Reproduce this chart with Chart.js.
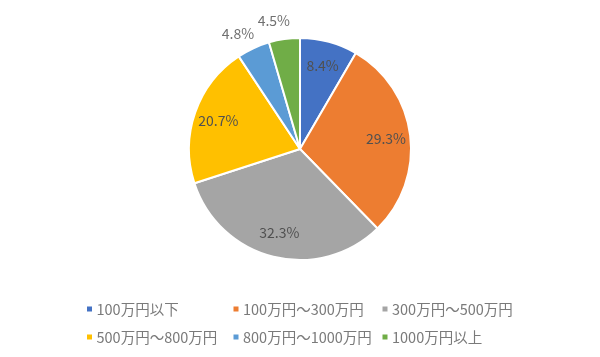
<!DOCTYPE html>
<html>
<head>
<meta charset="utf-8">
<script src="https://cdn.jsdelivr.net/npm/chart.js@4"></script>
<style>
html,body{margin:0;padding:0;background:#fff;}
#wrap{width:600px;height:357px;}
</style>
</head>
<body>
<div id="wrap"><canvas id="c" width="600" height="357"></canvas></div>
<script>
const categories = ["100万円以下", "100万円～300万円", "300万円～500万円", "500万円～800万円", "800万円～1000万円", "1000万円以上"];
const values = [8.4, 29.3, 32.3, 20.7, 4.8, 4.5];
const colors = ["#4472C4", "#ED7D31", "#A5A5A5", "#FFC000", "#5B9BD5", "#70AD47"];

const FONT = '"Noto Sans CJK JP", "Noto Sans", sans-serif';

const labelPlugin = {
  id: 'sliceLabels',
  afterDatasetsDraw(chart) {
    const ctx = chart.ctx;
    const meta = chart.getDatasetMeta(0);
    ctx.save();
    ctx.font = '14px ' + FONT;
    ctx.textAlign = 'center';
    ctx.textBaseline = 'middle';
    meta.data.forEach((arc, i) => {
      const p = arc.getProps(['x','y','startAngle','endAngle','outerRadius'], true);
      const mid = (p.startAngle + p.endAngle) / 2;
      const v = values[i];
      let r, col, a = mid;
      if (v > 6) { r = p.outerRadius * 0.78; col = '#505050'; }
      else { r = p.outerRadius + 20; col = '#707070'; a = mid - 0.06; }
      const x = p.x + Math.cos(a) * r;
      const y = p.y + Math.sin(a) * r;
      ctx.fillStyle = col;
      ctx.fillText(v.toFixed(1) + '%', x, y);
    });
    ctx.restore();
  }
};

const legendPlugin = {
  id: 'gridLegend',
  afterDraw(chart) {
    const ctx = chart.ctx;
    const ds = chart.data.datasets[0];
    const colX = [89.5, 236, 385];
    const rowY = [309, 337];
    ctx.save();
    ctx.font = '14.5px ' + FONT;
    ctx.textAlign = 'left';
    ctx.textBaseline = 'middle';
    chart.data.labels.forEach((lab, i) => {
      const cx = colX[i % 3];
      const cy = rowY[Math.floor(i / 3)];
      ctx.fillStyle = ds.backgroundColor[i];
      ctx.fillRect(cx - 2.5, cy - 2.5, 5, 5);
      ctx.fillStyle = '#7a7a7a';
      ctx.fillText(lab, cx + 7, cy);
    });
    ctx.restore();
  }
};

new Chart(document.getElementById('c'), {
  type: 'pie',
  data: {
    labels: categories,
    datasets: [{
      data: values,
      backgroundColor: colors,
      borderColor: '#ffffff',
      borderWidth: 2,
      hoverOffset: 0
    }]
  },
  options: {
    responsive: false,
    animation: false,
    radius: 111,
    layout: { padding: { top: 0, bottom: 59, left: 0, right: 0 } },
    plugins: {
      legend: { display: false },
      tooltip: { enabled: false }
    }
  },
  plugins: [labelPlugin, legendPlugin]
});
</script>
</body>
</html>
